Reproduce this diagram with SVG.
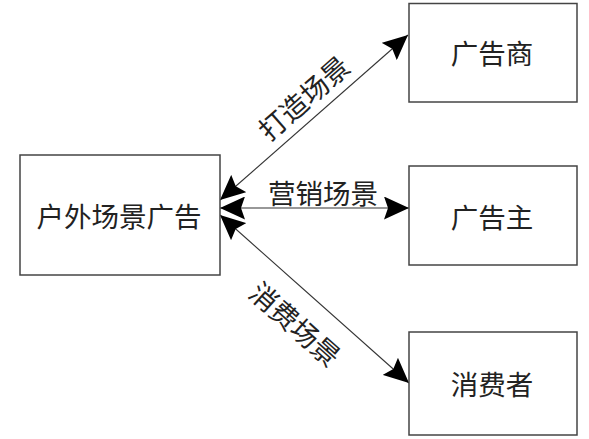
<svg xmlns="http://www.w3.org/2000/svg" width="589" height="439" viewBox="0 0 589 439">
<defs>
<style>
.box{fill:#fff;stroke:#444;stroke-width:1.5}
.lbl{font-family:"Noto Sans CJK SC","Noto Sans",sans-serif;font-size:27.5px;fill:#222;text-anchor:middle;dominant-baseline:central}
.conn{stroke:#333;stroke-width:1.1;fill:none;marker-start:url(#ah);marker-end:url(#ah)}
</style>
<marker id="ah" markerUnits="userSpaceOnUse" viewBox="0 0 25 23" refX="25" refY="11.5" markerWidth="25" markerHeight="23" orient="auto-start-reverse">
<path d="M0,0 L25,11.5 L0,23 L4,11.5 Z" fill="#000"/>
</marker>
</defs>
<rect width="589" height="439" fill="#fff"/>
<g id="connectors">
<line class="conn" x1="220" y1="200" x2="408" y2="35"/>
<line class="conn" x1="220" y1="208" x2="409" y2="208"/>
<line class="conn" x1="220" y1="215" x2="409" y2="383"/>
<text class="lbl" transform="translate(303,97) rotate(-41.3)">打造场景</text>
<text class="lbl" x="323" y="192">营销场景</text>
<text class="lbl" transform="translate(296,323) rotate(41.6)">消费场景</text>
</g>
<g id="outdoor">
<rect class="box" x="20" y="155" width="200" height="120"/>
<text class="lbl" x="119" y="215">户外场景广告</text>
</g>
<g id="advertiser-agency">
<rect class="box" x="409" y="3.5" width="168" height="98.5"/>
<text class="lbl" x="492" y="52">广告商</text>
</g>
<g id="advertiser">
<rect class="box" x="409" y="166" width="168" height="99"/>
<text class="lbl" x="492" y="216">广告主</text>
</g>
<g id="consumer">
<rect class="box" x="409" y="332" width="168" height="103"/>
<text class="lbl" x="492" y="383">消费者</text>
</g>
</svg>
